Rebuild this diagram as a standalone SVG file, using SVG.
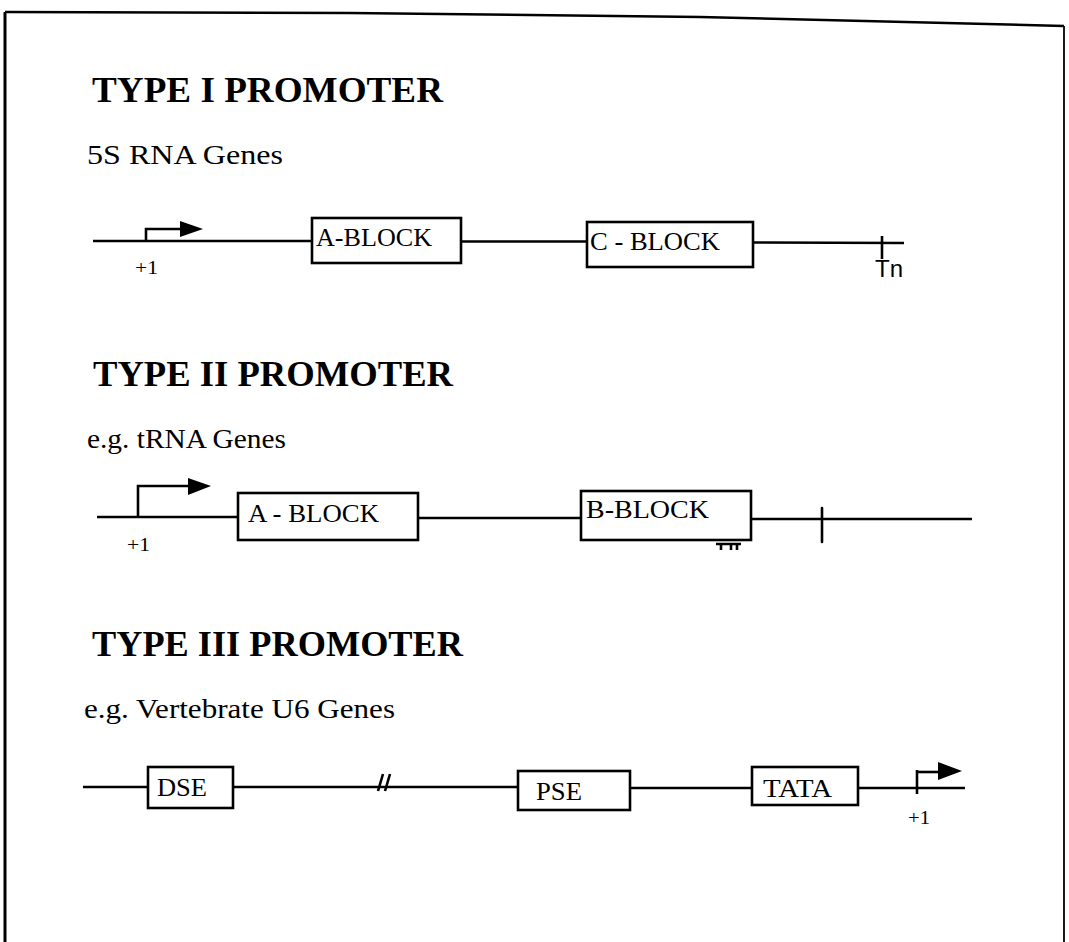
<svg xmlns="http://www.w3.org/2000/svg" width="1069" height="942" viewBox="0 0 1069 942">
<style>
.bd{stroke:#000;fill:none}
.ln{stroke:#000;stroke-width:2.6;fill:none}
.box{stroke:#000;stroke-width:2.6;fill:#fff}
.hd{font-family:"Liberation Serif","Times New Roman",serif;font-weight:bold;font-size:36px;fill:#000}
.sub{font-family:"Liberation Serif","Times New Roman",serif;font-size:27px;fill:#000}
.lb{font-family:"Liberation Serif","Times New Roman",serif;font-size:26px;fill:#000}
.p1{font-family:"Liberation Serif","Times New Roman",serif;font-size:19px;fill:#000}
.ah{fill:#000}
</style>
<rect width="1069" height="942" fill="#fff"/>
<g id="frame">
<path class="bd" stroke-width="3" d="M5,942 L5,12"/>
<path class="bd" stroke-width="2.5" d="M5,12 L350,13 L700,17 L1064,26"/>
<path class="bd" stroke-width="1.8" d="M1064,26 L1064,942"/>
</g>
<g id="titles">
<text class="hd" x="92" y="102" textLength="351" lengthAdjust="spacingAndGlyphs">TYPE I PROMOTER</text>
<text class="sub" x="87" y="164" textLength="196" lengthAdjust="spacingAndGlyphs">5S RNA Genes</text>
<text class="hd" x="93" y="386" textLength="360" lengthAdjust="spacingAndGlyphs">TYPE II PROMOTER</text>
<text class="sub" x="87" y="448" textLength="199" lengthAdjust="spacingAndGlyphs">e.g. tRNA Genes</text>
<text class="hd" x="92" y="656" textLength="371" lengthAdjust="spacingAndGlyphs">TYPE III PROMOTER</text>
<text class="sub" x="84" y="718" textLength="311" lengthAdjust="spacingAndGlyphs">e.g. Vertebrate U6 Genes</text>
</g>
<g id="connectors">
<path class="ln" d="M93,241 L312,241 M461,241.5 L587,241.5 M753,242.5 L904,243"/>
<path class="ln" d="M146,241 L146,229 L182,229"/>
<polygon class="ah" points="180,221 203,229 180,237"/>
<path class="ln" d="M882,236 L882,259"/>
<path class="ln" d="M97,517 L238,517 M418,518 L581,518 M751,519 L972,519"/>
<path class="ln" d="M138,517 L138,486 L190,486"/>
<polygon class="ah" points="188,478 211,486 188,495"/>
<path class="ln" stroke-width="4.5" stroke-linecap="round" d="M822,508 L822,542"/>
<path class="ln" stroke-width="2" d="M716,544 L741,544 M721,544 L721,550 M731,544 L731,550 M737,544 L737,550"/>
<path class="ln" d="M83,787 L148,787 M233,787 L518,787 M630,788 L752,788 M858,788 L965,788"/>
<path class="ln" stroke-width="1.8" d="M378,791 L383,774 M385,791 L390,774"/>
<path class="ln" stroke-width="4.5" d="M917,770 L917,794"/>
<path class="ln" d="M917,772 L940,772"/>
<polygon class="ah" points="938,762 962,771 938,780"/>
</g>
<g id="plus1-a"><text class="p1" x="135" y="274" textLength="23" lengthAdjust="spacingAndGlyphs">+1</text></g>
<g id="a-block-1"><rect class="box" x="312" y="218" width="149" height="45"/><text class="lb" x="316" y="246" textLength="116" lengthAdjust="spacingAndGlyphs">A-BLOCK</text></g>
<g id="c-block"><rect class="box" x="587" y="222" width="166" height="45"/><text class="lb" x="590" y="250" textLength="130" lengthAdjust="spacingAndGlyphs">C - BLOCK</text></g>
<g id="tn"><text x="875" y="277" font-family="Liberation Sans, Arial, sans-serif" font-size="24" fill="#000">Tn</text></g>
<g id="plus1-b"><text class="p1" x="127" y="551" textLength="23" lengthAdjust="spacingAndGlyphs">+1</text></g>
<g id="a-block-2"><rect class="box" x="238" y="493" width="180" height="47"/><text class="lb" x="248" y="522" textLength="131" lengthAdjust="spacingAndGlyphs">A - BLOCK</text></g>
<g id="b-block"><rect class="box" x="581" y="491" width="170" height="49"/><text class="lb" x="586" y="518" textLength="123" lengthAdjust="spacingAndGlyphs">B-BLOCK</text></g>
<g id="dse"><rect class="box" x="148" y="767" width="85" height="41"/><text class="lb" x="157" y="796" textLength="50" lengthAdjust="spacingAndGlyphs">DSE</text></g>
<g id="pse"><rect class="box" x="518" y="771" width="112" height="39"/><text class="lb" x="536" y="800" textLength="46" lengthAdjust="spacingAndGlyphs">PSE</text></g>
<g id="tata"><rect class="box" x="752" y="767" width="106" height="38"/><text class="lb" x="763" y="797" textLength="69" lengthAdjust="spacingAndGlyphs">TATA</text></g>
<g id="plus1-c"><text class="p1" x="908" y="824" textLength="22" lengthAdjust="spacingAndGlyphs">+1</text></g>
</svg>
